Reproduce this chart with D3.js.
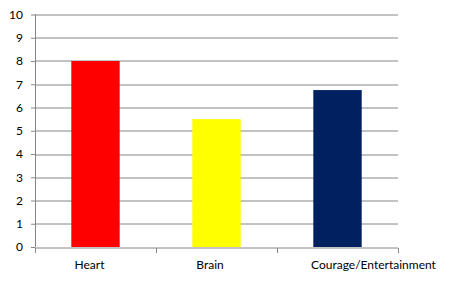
<!DOCTYPE html>
<meta charset="utf-8">
<style>
    body { margin: 0; background: #fff; }
    text { font-family: Lato, 'Open Sans', sans-serif; font-size: 12px; fill: #000; }
</style>
<script src="https://d3js.org/d3.v7.min.js"></script>
<div id="graph"></div>
<script>
    const categories = ["Heart", "Brain", "Courage/Entertainment"];
    const values = [8, 5.5, 6.75];
    const barColors = ["#ff0000", "#ffff00", "#002060"];
    const yTicks = [0, 1, 2, 3, 4, 5, 6, 7, 8, 9, 10];

    const W = 449, H = 291;
    const margin = {top: 14.5, right: 51, bottom: 44, left: 35};
    const width = W - margin.left - margin.right,
        height = H - margin.top - margin.bottom;

    const svg = d3.select("#graph").append("svg")
        .attr("width", W).attr("height", H)
        .append("g")
        .attr("transform", `translate(${margin.left},${margin.top})`);

    const x = d3.scaleBand().domain(categories).range([0, width])
        .paddingInner(0.6).paddingOuter(0.3);
    const y = d3.scaleLinear().domain([0, 10]).range([height, 0]);

    // gridlines
    svg.append("g").selectAll("line")
        .data(yTicks.slice(1))
        .enter().append("line")
        .attr("x1", 0).attr("x2", width)
        .attr("y1", d => Math.round(y(d)) + 0.5).attr("y2", d => Math.round(y(d)) + 0.5)
        .attr("stroke", "#868686");

    // bars
    svg.append("g").selectAll("rect")
        .data(categories)
        .enter().append("rect")
        .attr("x", d => x(d))
        .attr("width", x.bandwidth())
        .attr("y", (d, i) => y(values[i]))
        .attr("height", (d, i) => height - y(values[i]))
        .attr("fill", (d, i) => barColors[i]);

    // y axis
    const axisY = svg.append("g")
        .call(d3.axisLeft(y).tickValues(yTicks).tickSize(4).tickPadding(8));
    axisY.select(".domain").attr("stroke", "#868686").attr("d", `M0.5,${height}V0`);
    axisY.selectAll(".tick line").attr("stroke", "#868686");
    axisY.selectAll("text").style("font-size", "12px");

    // x axis
    const axisX = svg.append("g")
        .attr("transform", `translate(0,${Math.round(height) + 0.5})`);
    axisX.append("line").attr("x1", 0).attr("x2", width).attr("stroke", "#868686");
    axisX.selectAll("line.tick")
        .data(d3.range(categories.length + 1))
        .enter().append("line")
        .attr("class", "tick")
        .attr("x1", i => Math.round(i * width / categories.length) + 0.5)
        .attr("x2", i => Math.round(i * width / categories.length) + 0.5)
        .attr("y1", 0).attr("y2", 5)
        .attr("stroke", "#868686");
    // label nudges as in the source image (long label sits further right)
    const labelDx = [-6, -6.5, 36];
    axisX.selectAll("text")
        .data(categories)
        .enter().append("text")
        .attr("x", (d, i) => x(d) + x.bandwidth() / 2 + labelDx[i])
        .attr("y", 21)
        .attr("text-anchor", "middle")
        .text(d => d);
</script>
